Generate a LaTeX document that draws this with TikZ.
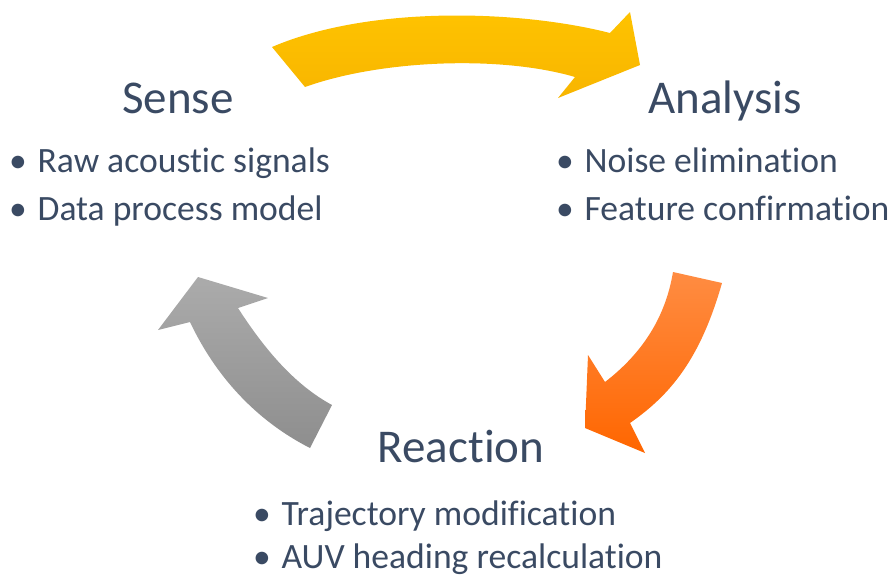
\documentclass[tikz,border=0pt]{standalone}
\usepackage{fontspec}
\setmainfont[Ligatures=NoCommon]{Carlito}
\definecolor{txt}{HTML}{3A4A63}
\definecolor{yelA}{HTML}{FFC400}
\definecolor{yelB}{HTML}{F8B500}
\definecolor{orA}{HTML}{FF8C42}
\definecolor{orB}{HTML}{FF6600}
\definecolor{grA}{HTML}{ABABAB}
\definecolor{grB}{HTML}{8E8E8E}
\tikzset{
  title/.style={text=txt, font=\fontsize{47}{56}\selectfont, inner sep=0pt},
  item/.style={text=txt, font=\fontsize{35.6}{42}\selectfont, inner sep=0pt, anchor=base west},
}
\begin{document}
\begin{tikzpicture}[x=1pt,y=-1pt]
\useasboundingbox (0,0) rectangle (894,579);
% yellow arrow (Sense -> Analysis)
\shade[top color=yelA, bottom color=yelB]
  (272,47) .. controls (370,5) and (520,10) .. (610,33)
  -- (630,12) -- (640,65) -- (558,98) -- (575,77)
  .. controls (500,55) and (380,60) .. (305,87) -- cycle;
% orange arrow (Analysis -> Reaction)
\shade[top color=orA, bottom color=orB]
  (673,272) -- (722,283) .. controls (700,360) and (670,395) .. (630,423)
  -- (645,453) -- (585,428) -- (588,355) -- (605,382)
  .. controls (640,355) and (665,320) .. (673,272) -- cycle;
% gray arrow (Reaction -> Sense)
\shade[top color=grA, bottom color=grB]
  (158,330) -- (198,277) -- (268,298) -- (238,308)
  .. controls (265,350) and (295,385) .. (332,405)
  -- (310,448) .. controls (255,420) and (215,375) .. (190,322) -- cycle;
% titles
\node[title, anchor=base] (sense) at (178,113) {Sense};
\node[title, anchor=base] (analysis) at (725,113) {Analysis};
\node[title, anchor=base] (reaction) at (461,462) {Reaction};
% items
\node[item] (s1) at (9,172) {•\hspace{0.3em}Raw acoustic signals};
\node[item] (s2) at (9,220) {•\hspace{0.3em}Data process model};
\node[item] (a1) at (556,172) {•\hspace{0.3em}Noise elimination};
\node[item] (a2) at (556,220) {•\hspace{0.3em}Feature confirmation};
\node[item] (r1) at (253,525) {•\hspace{0.3em}Trajectory modification};
\node[item] (r2) at (253,568) {•\hspace{0.3em}AUV heading recalculation};
\end{tikzpicture}
\end{document}
